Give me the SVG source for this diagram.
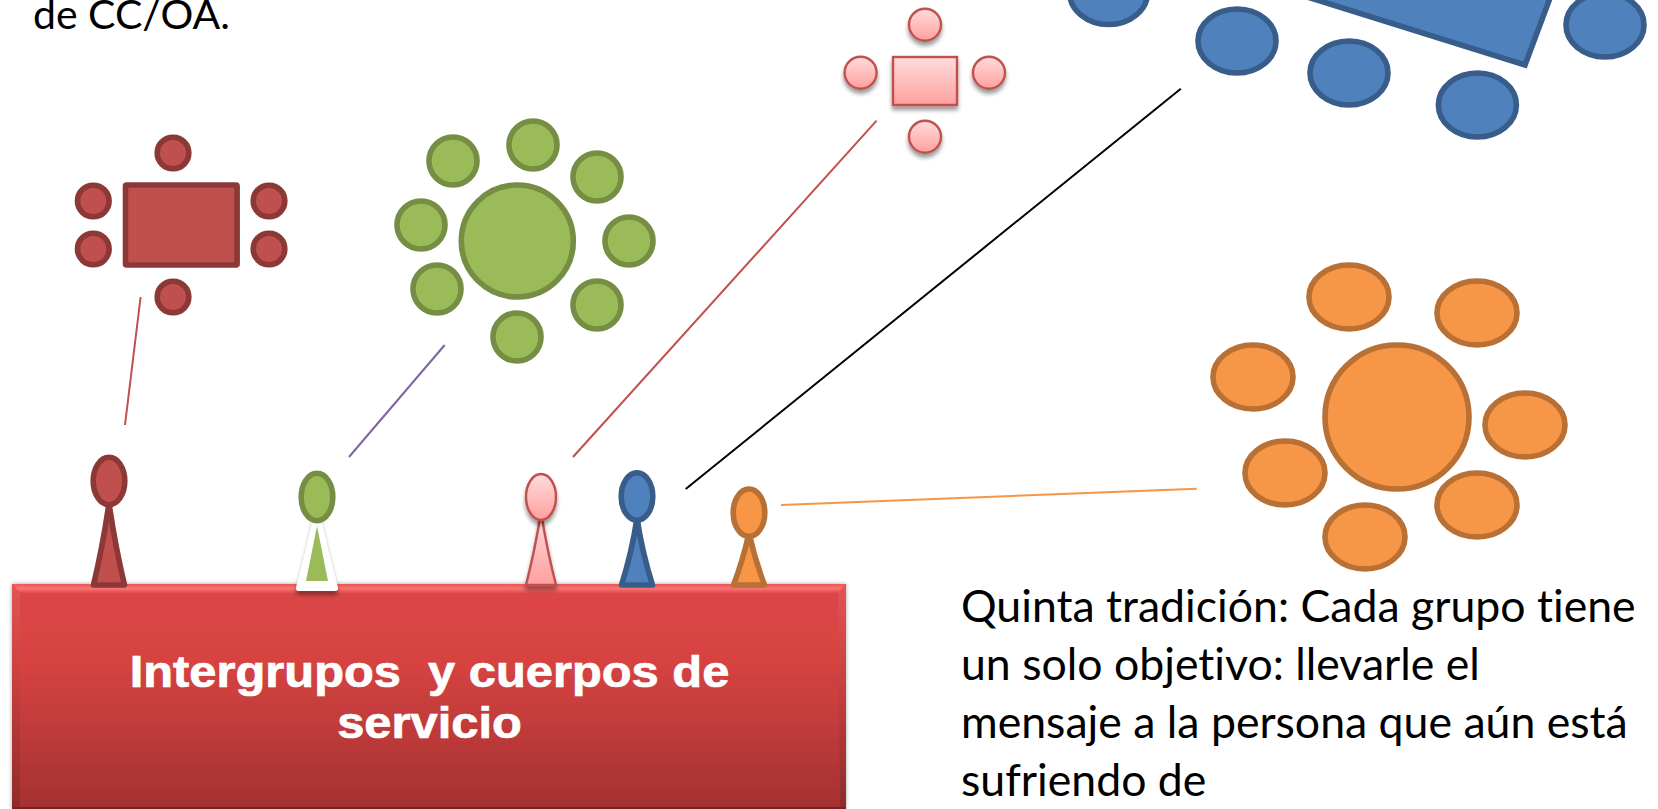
<svg xmlns="http://www.w3.org/2000/svg" width="1658" height="809" viewBox="0 0 1658 809">
<style>
.red{fill:#c0504d;stroke:#8c3836;stroke-width:5.6}
.green{fill:#9bbb59;stroke:#758e43;stroke-width:5.6}
.blue{fill:#4f81bd;stroke:#385d8a;stroke-width:5.6}
.orange{fill:#f79646;stroke:#b97035;stroke-width:5.6}
.pink{fill:url(#pinkGrad);stroke:#c0504d;stroke-width:2.4;filter:url(#shadow)}
.conn{fill:none;stroke-width:2}
.body{font-family:"Lato","Liberation Sans",sans-serif;fill:#000;font-variant-ligatures:none}
.title{font-family:"Liberation Sans",Arial,sans-serif;font-weight:bold;fill:#fff;stroke:#fff;stroke-width:.7;text-anchor:middle}
.cone{stroke-linejoin:round}
</style>
<defs>
<linearGradient id="pinkGrad" x1="0" y1="0" x2="0" y2="1"><stop offset="0" stop-color="#ffdcdc"/><stop offset="1" stop-color="#ff9f9f"/></linearGradient>
<linearGradient id="boxGrad" x1="0" y1="0" x2="0" y2="1"><stop offset="0" stop-color="#dd4646"/><stop offset=".35" stop-color="#d64341"/><stop offset="1" stop-color="#a43131"/></linearGradient>
<linearGradient id="bevelTop" x1="0" y1="0" x2="0" y2="1"><stop offset="0" stop-color="#ea5656"/><stop offset=".5" stop-color="#fb7272"/><stop offset="1" stop-color="#e24c4c"/></linearGradient>
<linearGradient id="bevelSide" x1="0" y1="0" x2="0" y2="1"><stop offset="0" stop-color="#e45454"/><stop offset=".4" stop-color="#c94240"/><stop offset="1" stop-color="#8f2a2a"/></linearGradient>
<filter id="shadow" x="-40%" y="-40%" width="180%" height="180%"><feGaussianBlur in="SourceAlpha" stdDeviation="2.2"/><feOffset dy="3.5"/><feComponentTransfer><feFuncA type="linear" slope=".4"/></feComponentTransfer><feMerge><feMergeNode/><feMergeNode in="SourceGraphic"/></feMerge></filter>
<filter id="boxShadow" x="-3%" y="-5%" width="106%" height="110%"><feGaussianBlur in="SourceAlpha" stdDeviation="2"/><feComponentTransfer><feFuncA type="linear" slope=".35"/></feComponentTransfer><feMerge><feMergeNode/><feMergeNode in="SourceGraphic"/></feMerge></filter>
</defs>
<rect width="1658" height="809" fill="#fff"/>

<text class="body" x="33" y="28.500" font-size="41">de CC/OA.</text>

<g id="connectors">
<line class="conn" x1="140.6" y1="297" x2="125" y2="425" stroke="#c0504d"/>
<line class="conn" x1="444.7" y1="345" x2="349" y2="457" stroke="#8064a2"/>
<line class="conn" x1="876.6" y1="120.7" x2="573" y2="457" stroke="#c0504d"/>
<line class="conn" x1="1180.8" y1="88.7" x2="685.7" y2="489" stroke="#000"/>
<line class="conn" x1="781" y1="505" x2="1196.7" y2="488.7" stroke="#f79646"/>
</g>

<g id="table-red">
<rect class="red" x="125.5" y="185" width="111.6" height="80" rx="1"/>
<circle class="red" cx="173" cy="153" r="15.8"/>
<circle class="red" cx="93.3" cy="201" r="15.8"/>
<circle class="red" cx="93.3" cy="249" r="15.8"/>
<circle class="red" cx="269" cy="201" r="15.8"/>
<circle class="red" cx="269" cy="249" r="15.8"/>
<circle class="red" cx="173" cy="297" r="15.8"/>
</g>

<g id="table-green">
<circle class="green" cx="517.3" cy="241" r="56"/>
<circle class="green" cx="453" cy="161" r="24"/>
<circle class="green" cx="533" cy="145" r="24"/>
<circle class="green" cx="597" cy="177" r="24"/>
<circle class="green" cx="629" cy="241" r="24"/>
<circle class="green" cx="597" cy="305" r="24"/>
<circle class="green" cx="517" cy="337" r="24"/>
<circle class="green" cx="437" cy="289" r="24"/>
<circle class="green" cx="421" cy="225" r="24"/>
</g>

<g id="table-pink">
<rect class="pink" x="893" y="57" width="64" height="48"/>
<circle class="pink" cx="925" cy="24.7" r="16"/>
<circle class="pink" cx="860.6" cy="72.7" r="16"/>
<circle class="pink" cx="989" cy="72.7" r="16"/>
<circle class="pink" cx="925" cy="136.7" r="16"/>
</g>

<g id="table-blue">
<polygon class="blue" points="1525,65 1553,-10 1285,-10"/>
<ellipse class="blue" cx="1108.6" cy="-7.5" rx="39" ry="32"/>
<ellipse class="blue" cx="1237" cy="41" rx="39" ry="32"/>
<ellipse class="blue" cx="1349" cy="73" rx="39" ry="32"/>
<ellipse class="blue" cx="1477.4" cy="105" rx="39" ry="32"/>
<ellipse class="blue" cx="1605" cy="25" rx="39" ry="32"/>
</g>

<g id="table-orange">
<circle class="orange" cx="1397" cy="417" r="72"/>
<ellipse class="orange" cx="1349" cy="297" rx="40" ry="32"/>
<ellipse class="orange" cx="1477" cy="313" rx="40" ry="32"/>
<ellipse class="orange" cx="1253" cy="377" rx="40" ry="32"/>
<ellipse class="orange" cx="1525" cy="425" rx="40" ry="32"/>
<ellipse class="orange" cx="1285" cy="473" rx="40" ry="32"/>
<ellipse class="orange" cx="1477" cy="505" rx="40" ry="32"/>
<ellipse class="orange" cx="1365" cy="537" rx="40" ry="32"/>
</g>

<g id="intergrupos">
<rect x="12" y="584" width="834" height="225" fill="url(#boxGrad)" filter="url(#boxShadow)"/>
<polygon points="12,584 846,584 838,593 20,593" fill="url(#bevelTop)"/>
<polygon points="12,584 20,593 20,809 12,809" fill="url(#bevelSide)"/>
<polygon points="846,584 838,593 840,809 846,809" fill="url(#bevelSide)"/>
<rect x="12" y="807" width="834" height="2" fill="#7a2222"/>
<text class="title" transform="translate(429.5 686.5) scale(1.11 1)" font-size="44" xml:space="preserve">Intergrupos  y cuerpos de</text>
<text class="title" transform="translate(429.5 737.5) scale(1.11 1)" font-size="44">servicio</text>
</g>

<g id="pawn-red">
<path class="red cone" d="M109,503 Q115,545 124.500,585 L93.500,585 Q103,545 109,503Z"/>
<ellipse class="red" cx="109" cy="481" rx="15.800" ry="23.700"/>
</g>
<g id="pawn-green">
<path d="M317,515 Q325,552 335,588 L299,588 Q309,552 317,515Z" fill="#fff" stroke="#fff" stroke-width="6" stroke-linejoin="round" filter="url(#shadow)"/>
<polygon points="317,526 328,581 306,581" fill="#9bbb59"/>
<ellipse class="green" cx="317" cy="497" rx="15.800" ry="23.700"/>
</g>
<g id="pawn-pink">
<path class="pink cone" d="M541,512 Q547,550 556,585 L526,585 Q535,550 541,512Z"/>
<ellipse class="pink" cx="541" cy="497" rx="15" ry="23"/>
</g>
<g id="pawn-blue">
<path class="blue cone" d="M637,518 Q642,552 652.500,585 L621.500,585 Q632,552 637,518Z"/>
<ellipse class="blue" cx="637" cy="496.500" rx="15.800" ry="23.700"/>
</g>
<g id="pawn-orange">
<path class="orange cone" d="M749,533 Q755,560 764.500,585 L733.500,585 Q743,560 749,533Z"/>
<ellipse class="orange" cx="749" cy="512.700" rx="15.800" ry="23.700"/>
</g>

<g id="quinta-tradicion" class="body" font-size="44.600">
<text x="961" y="621.700">Quinta tradición: Cada grupo tiene</text>
<text x="961" y="680">un solo objetivo: llevarle el</text>
<text x="961" y="737.700">mensaje a la persona que aún está</text>
<text x="961" y="795.700">sufriendo de</text>
</g>
</svg>
